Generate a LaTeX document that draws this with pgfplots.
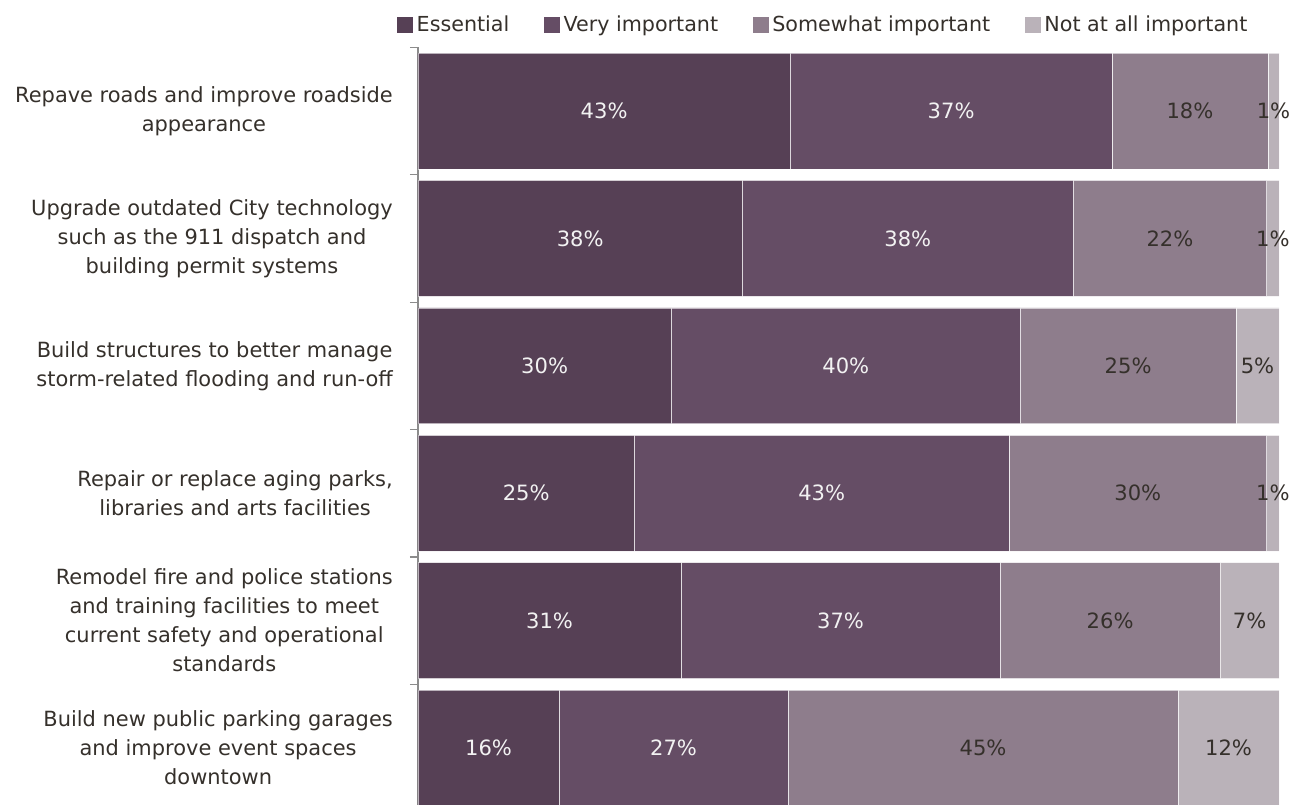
\documentclass[border=0pt]{standalone}
\usepackage{pgfplots}
\pgfplotsset{compat=1.18}
\usepackage{pgfplotstable}
\usepackage{fontspec}
\setmainfont{DejaVu Sans}
\definecolor{cE}{HTML}{564055}
\definecolor{cV}{HTML}{654D65}
\definecolor{cS}{HTML}{8E7D8C}
\definecolor{cN}{HTML}{BAB2B9}
\definecolor{txt}{HTML}{35302B}
\definecolor{axgray}{HTML}{8C8C8C}
\pgfplotstableread{
y E El V Vl S Sl N Nl
0 43.24 43 37.36 37 18.12 18 1.28 1
1 37.67 38 38.44 38 22.46 22 1.43 1
2 29.42 30 40.54 40 25.04 25 5.00 5
3 25.13 25 43.51 43 29.93 30 1.43 1
4 30.55 31 37.05 37 25.58 26 6.82 7
5 16.38 16 26.60 27 45.30 45 11.73 12
}\datatable
\begin{document}
\begin{tikzpicture}
\begin{axis}[
  at={(313.5pt,-0.75pt)}, anchor=south west,
  scale only axis, width=645.75pt, height=569pt,
  xbar stacked, bar width=0.91,
  xmin=0, xmax=100, ymin=-0.5, ymax=5.455,
  y dir=reverse, clip=false,
  axis x line=none, axis y line*=left,
  y axis line style={axgray, line width=0.9pt},
  ytick={0,...,5},
  yticklabels={{Repave roads and improve roadside\\appearance},
    {Upgrade outdated City technology\\such as the 911 dispatch and\\building permit systems},
    {Build structures to better manage\\storm-related flooding and run-off},
    {Repair or replace aging parks,\\libraries and arts facilities},
    {Remodel fire and police stations\\and training facilities to meet\\current safety and operational\\standards},
    {Build new public parking garages\\and improve event spaces\\downtown}},
  major tick length=0pt,
  minor ytick={-0.5,0.5,1.5,2.5,3.5,4.5},
  minor tick length=6pt, tick align=outside,
  minor tick style={axgray, line width=0.9pt},
  yticklabel style={align=center, anchor=east, inner xsep=0pt, xshift=-18.75pt,
    font=\fontsize{15.7}{21.75}\selectfont, text=txt},
  point meta=explicit symbolic,
  nodes near coords={\pgfplotspointmeta\%},
  every node near coord/.append style={font=\fontsize{15.8}{18}\selectfont},
  every axis plot/.append style={draw=white, draw opacity=0.6, line width=0.5pt},
  legend columns=-1,
  legend style={at={(-0.0244,1.0294)}, anchor=west, draw=none, inner sep=0pt,
    font=\fontsize{15.5}{18}\selectfont, text=txt,
    nodes={inner sep=0pt},
    /tikz/every odd column/.append style={column sep=2.6pt},
    /tikz/every even column/.append style={column sep=26pt}},
  legend image code/.code={\fill[#1,draw=none] (0pt,-6pt) rectangle (12pt,6pt);},
]
\addplot[fill=cE, every node near coord/.append style={text=white!95!black}] table[x=E, y=y, meta=El]{\datatable};
\addplot[fill=cV, every node near coord/.append style={text=white!95!black}] table[x=V, y=y, meta=Vl]{\datatable};
\addplot[fill=cS, every node near coord/.append style={text=txt}] table[x=S, y=y, meta=Sl]{\datatable};
\addplot[fill=cN, every node near coord/.append style={text=txt}] table[x=N, y=y, meta=Nl]{\datatable};
\legend{Essential, Very important, Somewhat important, Not at all important}
\end{axis}
\pgfresetboundingbox
\useasboundingbox (0,0) rectangle (972.75pt,603.75pt);
\end{tikzpicture}
\end{document}
